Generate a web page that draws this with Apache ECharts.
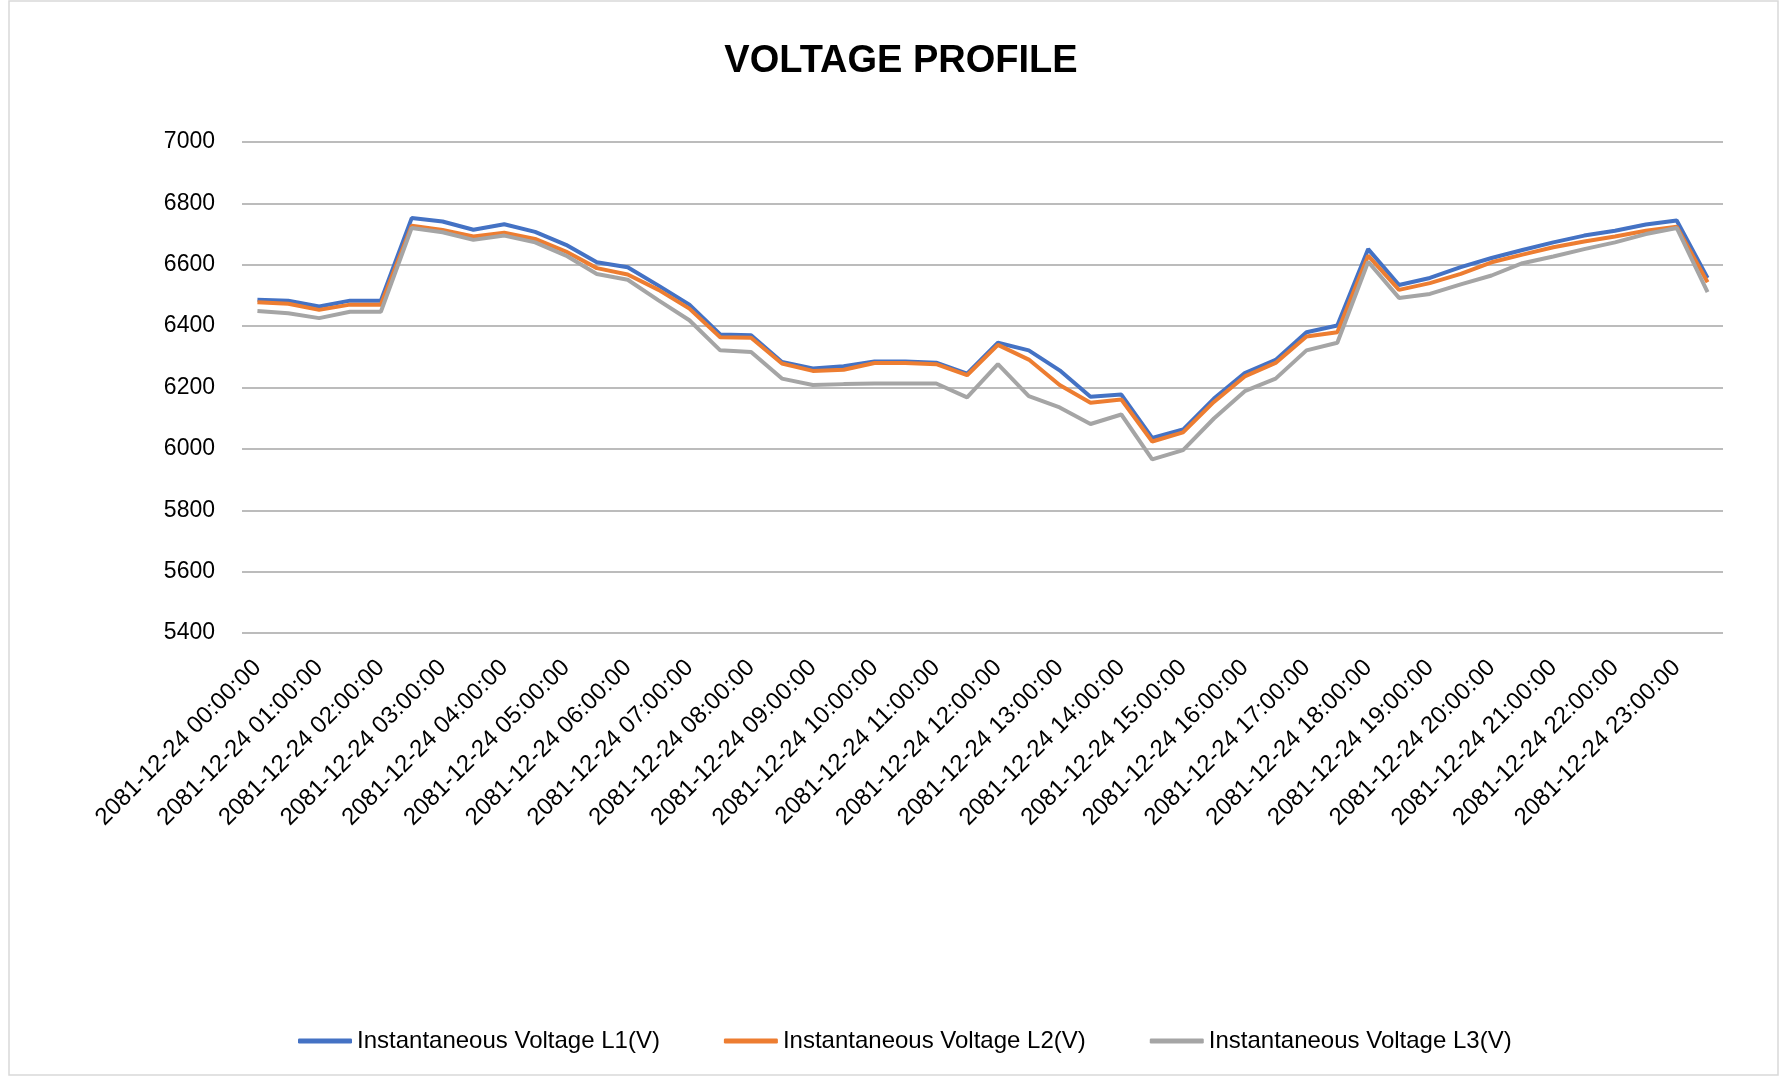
<!DOCTYPE html>
<html>
<head>
<meta charset="utf-8">
<title>Voltage Profile</title>
<script src="https://cdn.jsdelivr.net/npm/echarts@6/dist/echarts.min.js"></script>
<style>
  html, body { margin: 0; padding: 0; background: #fff; }
  #chart { width: 1780px; height: 1077px; }
</style>
</head>
<body>
<div id="chart"></div>
<script>
// 30 minute readings for one day
var times = [];
for (var h = 0; h < 24; h++) {
  var hh = (h < 10 ? "0" : "") + h;
  times.push("2081-12-24 " + hh + ":00:00");
  times.push("2081-12-24 " + hh + ":30:00");
}

var seriesNames = ["Instantaneous Voltage L1(V)", "Instantaneous Voltage L2(V)", "Instantaneous Voltage L3(V)"];

var voltL1 = [6486, 6483, 6464, 6483, 6483, 6752, 6741, 6714, 6732, 6707, 6665, 6608, 6592, 6532, 6470, 6373,
  6370, 6283, 6262, 6269, 6285, 6285, 6281, 6245, 6346, 6321, 6256, 6170, 6177, 6036, 6063, 6164,
  6247, 6290, 6380, 6402, 6651, 6534, 6557, 6592, 6622, 6648, 6673, 6695, 6711, 6731, 6744, 6557];

var voltL2 = [6478, 6473, 6453, 6470, 6470, 6727, 6713, 6692, 6704, 6684, 6643, 6589, 6568, 6518, 6457, 6364,
  6362, 6278, 6254, 6258, 6280, 6280, 6276, 6240, 6339, 6291, 6208, 6150, 6161, 6024, 6054, 6153,
  6236, 6280, 6366, 6380, 6630, 6518, 6540, 6570, 6608, 6633, 6657, 6676, 6692, 6711, 6724, 6543];

var voltL3 = [6449, 6442, 6426, 6447, 6447, 6720, 6706, 6681, 6695, 6673, 6630, 6570, 6551, 6484, 6419, 6321,
  6316, 6229, 6208, 6211, 6213, 6213, 6213, 6168, 6276, 6172, 6135, 6081, 6112, 5966, 5996, 6099,
  6188, 6229, 6321, 6346, 6610, 6492, 6505, 6536, 6565, 6605, 6627, 6651, 6673, 6700, 6720, 6511];

var colors = ["#4472C4", "#ED7D31", "#A5A5A5"];

function lineSeries(name, data, color) {
  return {
    name: name,
    type: "line",
    data: data,
    showSymbol: false,
    symbol: "none",
    lineStyle: { color: color, width: 4 },
    itemStyle: { color: color }
  };
}

window.onload = function () {
  var myChart = echarts.init(document.querySelector("#chart"));
  var font = "'Liberation Sans', Arial, sans-serif";

  myChart.setOption({
    backgroundColor: "#fff",
    animation: false,
    color: colors,
    // thin frame round the chart area like excel
    graphic: [{
      type: "rect",
      shape: { x: 9, y: 1, width: 1769, height: 1074 },
      style: { fill: "none", stroke: "#d9d9d9", lineWidth: 1.5 }
    }],
    title: {
      text: "VOLTAGE PROFILE",
      left: 896,
      textAlign: "center",
      top: 38,
      textStyle: {
        fontFamily: font,
        fontWeight: "bold",
        fontSize: 38,
        color: "#000"
      }
    },
    legend: {
      bottom: 19,
      left: 293,
      itemWidth: 54,
      itemHeight: 5,
      itemGap: 64,
      icon: "roundRect",
      textStyle: { fontFamily: font, fontSize: 24, color: "#000" },
      data: seriesNames
    },
    grid: { left: 242, right: 57, top: 142, height: 491, containLabel: false },
    xAxis: {
      type: "category",
      data: times,
      boundaryGap: true,
      axisLine: { show: false },
      axisTick: { show: false },
      axisLabel: {
        interval: 1,
        rotate: 45,
        margin: 31,
        fontFamily: font,
        fontSize: 24,
        color: "#000"
      }
    },
    yAxis: {
      type: "value",
      min: 5400,
      max: 7000,
      interval: 200,
      axisLine: { show: false },
      axisTick: { show: false },
      axisLabel: {
        fontFamily: font,
        fontSize: 23,
        color: "#000",
        margin: 27,
        formatter: function (v) { return String(v); }
      },
      splitLine: { lineStyle: { color: "#a6a6a6", width: 1.5 } }
    },
    series: [
      lineSeries(seriesNames[0], voltL1, colors[0]),
      lineSeries(seriesNames[1], voltL2, colors[1]),
      lineSeries(seriesNames[2], voltL3, colors[2])
    ]
  });

  window.addEventListener("resize", function () {
    myChart.resize();
  }, false);
};
</script>
</body>
</html>
